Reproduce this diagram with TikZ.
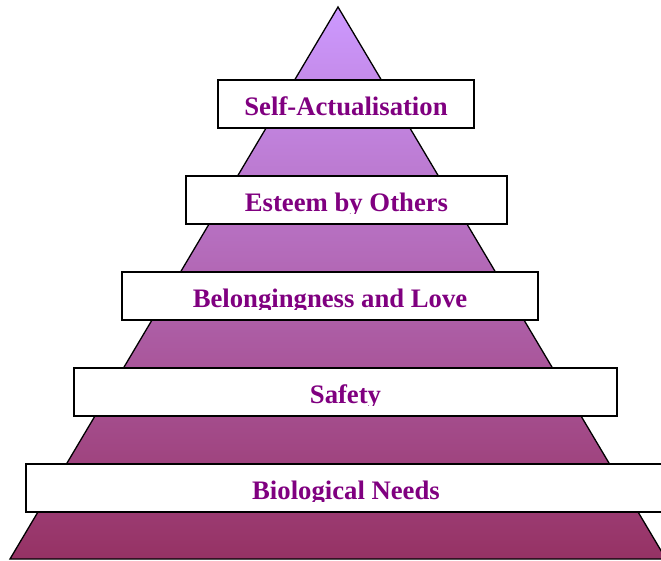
\documentclass[tikz,border=0pt]{standalone}
\usepackage{fontspec}
\setmainfont{Liberation Serif}
\usepackage{tikz}
\definecolor{apexlilac}{RGB}{204,153,255}
\definecolor{baseplum}{RGB}{150,50,100}
\definecolor{needpurple}{RGB}{128,0,128}

\begin{document}
\begin{tikzpicture}[
        x=1pt, y=-1pt,
        level/.style={draw=black, line width=1.3pt, fill=white, minimum height=48, inner sep=0pt},
        lbl/.style={font=\bfseries\fontsize{26.7}{30}\selectfont, text=needpurple, anchor=base, inner sep=0pt}
    ]
        \useasboundingbox (0,0) rectangle (661,560);
        \clip (0,0) rectangle (661,560);

        % the pyramid
        \coordinate (apex) at (338,7);
        \coordinate (baseL) at (10,559);
        \coordinate (baseR) at (666,559);
        \shadedraw[top color=apexlilac, bottom color=baseplum, draw=black, line width=1.3pt, line join=miter]
            (apex) -- (baseL) -- (baseR) -- cycle;

        % one white band for each need, text clipped at the band foot
        \foreach \nm/\cx/\cy/\w/\txt in {
            self/346/104/256/Self-Actualisation,
            esteem/346.5/200/321/Esteem by Others,
            love/330/296/416/Belongingness and Love,
            safety/345.5/392/543/Safety,
            bio/346/488/640/Biological Needs}{
            \node[level, minimum width=\w] (\nm) at (\cx,\cy) {};
            \begin{scope}
                \clip (\nm.north west) rectangle ([yshift=11pt]\nm.south east);
                \node[lbl] (\nm-txt) at ([yshift=13pt]\nm.south) {\txt};
            \end{scope}
        }
    \end{tikzpicture}
\end{document}
